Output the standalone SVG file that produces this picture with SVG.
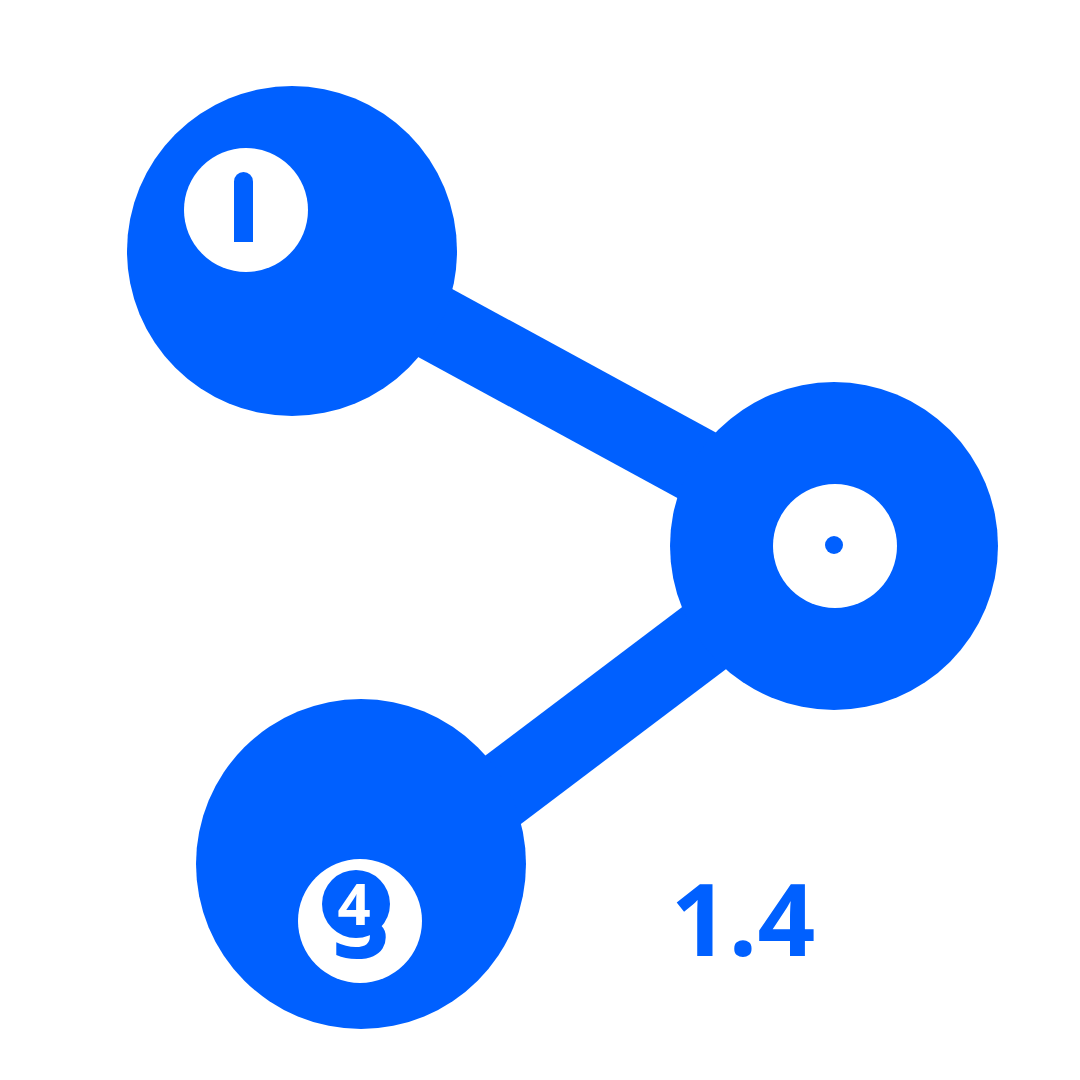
<svg xmlns="http://www.w3.org/2000/svg" width="1080" height="1080" viewBox="0 0 1080 1080">
<style>
.blue{fill:#0060FF}
.white{fill:#FFFFFF}
.edge{stroke:#0060FF;stroke-width:76;fill:none}
.lbl{font-family:"Open Sans","Noto Sans","Liberation Sans",sans-serif;font-weight:700}
</style>
<rect width="1080" height="1080" fill="#FFFFFF"/>
<g id="connectors">
<line class="edge" x1="292" y1="245" x2="834" y2="540"/>
<line class="edge" x1="834" y1="540" x2="361" y2="897"/>
</g>
<g id="node1">
<circle class="blue" cx="292" cy="251" r="165"/>
<circle class="white" cx="246" cy="210" r="62"/>
<path class="blue" d="M234,242 V181.5 A9.5,9.5 0 0 1 253,181.5 V242 Z"/>
</g>
<g id="node2">
<circle class="blue" cx="834" cy="546" r="164"/>
<circle class="white" cx="835" cy="546" r="62"/>
<circle class="blue" cx="834" cy="545" r="9"/>
</g>
<g id="node3">
<circle class="blue" cx="361" cy="864" r="165"/>
<circle class="white" cx="360" cy="921" r="62"/>
<text class="lbl blue" x="361" y="958" font-size="100" text-anchor="middle">3</text>
<circle class="blue" cx="356" cy="904" r="34"/>
<text class="lbl white" x="354" y="925" font-size="58" text-anchor="middle">4</text>
</g>
<g id="label">
<text class="lbl blue" x="743" y="956" font-size="101" text-anchor="middle">1.4</text>
</g>
</svg>
